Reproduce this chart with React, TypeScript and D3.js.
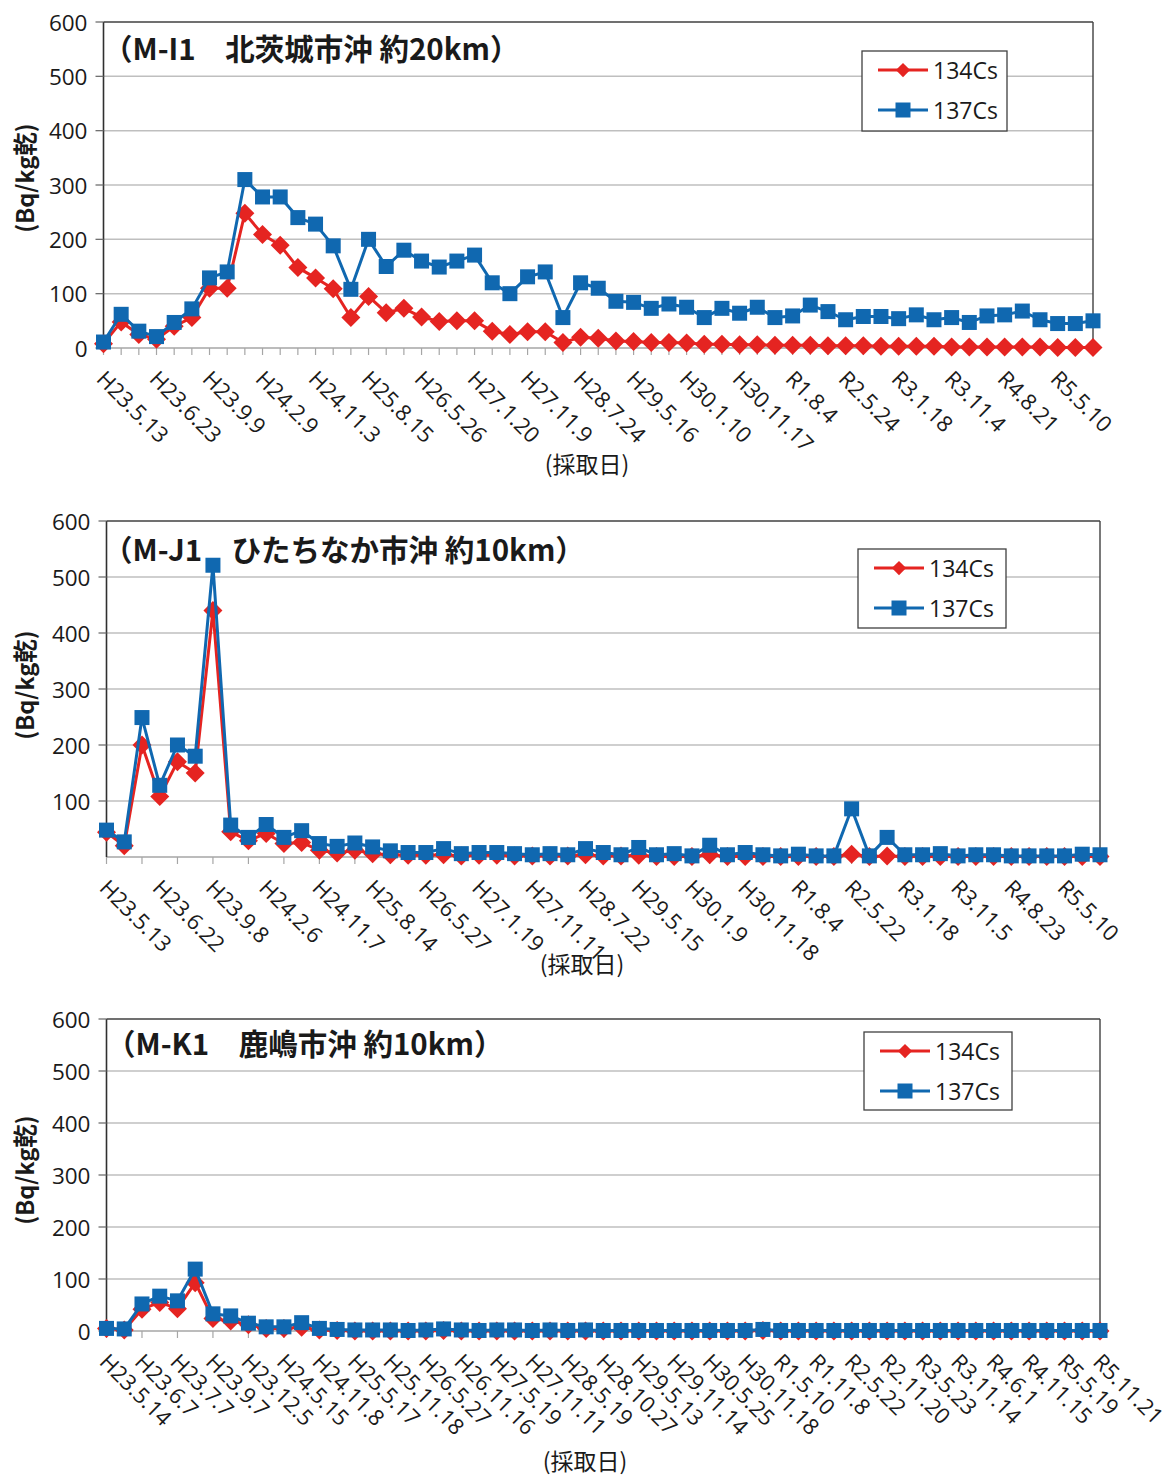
import React from 'react';
import * as d3 from 'd3';

const FONT = "'Open Sans', 'Noto Sans CJK JP', sans-serif";
const CJK = "'Noto Sans CJK JP', 'Open Sans', sans-serif";
const RED = '#E52421';
const BLUE = '#1068B0';

// ---- M-I1 北茨城市沖 ----
const labelsMI1 = [
  'H23.5.13', 'H23.6.23', 'H23.9.9', 'H24.2.9', 'H24.11.3', 'H25.8.15', 'H26.5.26',
  'H27.1.20', 'H27.11.9', 'H28.7.24', 'H29.5.16', 'H30.1.10', 'H30.11.17', 'R1.8.4',
  'R2.5.24', 'R3.1.18', 'R3.11.4', 'R4.8.21', 'R5.5.10',
];
const cs134MI1 = [
  8, 48, 25, 16, 40, 56, 110, 110, 248, 209, 189, 148, 129, 109, 56, 95, 65, 73, 57, 49,
  50, 50, 31, 25, 30, 30, 10, 20, 18, 13, 12, 10, 10, 9, 7, 7, 6, 6, 5, 5,
  5, 4, 4, 4, 3, 3, 3, 3, 2, 2, 2, 2, 2, 2, 1, 1, 1,
];
const cs137MI1 = [
  11, 62, 31, 21, 47, 72, 129, 140, 310, 278, 278, 240, 228, 188, 108, 200, 150, 180, 160, 149,
  160, 171, 120, 100, 131, 140, 56, 120, 110, 86, 84, 73, 81, 75, 56, 73, 64, 75, 56, 59,
  79, 67, 52, 58, 58, 54, 61, 52, 56, 47, 59, 61, 68, 52, 45, 45, 50,
];

// ---- M-J1 ひたちなか市沖 ----
const labelsMJ1 = [
  'H23.5.13', 'H23.6.22', 'H23.9.8', 'H24.2.6', 'H24.11.7', 'H25.8.14', 'H26.5.27',
  'H27.1.19', 'H27.11.11', 'H28.7.22', 'H29.5.15', 'H30.1.9', 'H30.11.18', 'R1.8.4',
  'R2.5.22', 'R3.1.18', 'R3.11.5', 'R4.8.23', 'R5.5.10',
];
const cs134MJ1 = [
  44, 20, 200, 108, 170, 150, 440, 45, 29, 42, 24, 26, 12, 7, 12, 6, 4, 3, 3, 4,
  2, 3, 3, 2, 2, 2, 2, 4, 2, 2, 3, 1, 1, 1, 4, 1, 1, 1, 1, 1,
  1, 1, 5, 1, 2, 1, 1, 1, 1, 1, 1, 1, 1, 1, 1, 1, 1,
];
const cs137MJ1 = [
  48, 27, 249, 128, 200, 180, 521, 57, 35, 58, 35, 47, 24, 19, 25, 18, 11, 8, 8, 15,
  6, 8, 8, 6, 4, 6, 4, 15, 8, 4, 17, 4, 6, 2, 21, 4, 8, 4, 2, 5,
  2, 2, 86, 2, 35, 4, 4, 6, 2, 4, 4, 2, 2, 2, 2, 5, 4,
];

// ---- M-K1 鹿嶋市沖 ----
const labelsMK1 = [
  'H23.5.14', 'H23.6.7', 'H23.7.7', 'H23.9.7', 'H23.12.5', 'H24.5.15', 'H24.11.8',
  'H25.5.17', 'H25.11.18', 'H26.5.27', 'H26.11.16', 'H27.5.19', 'H27.11.11', 'H28.5.19',
  'H28.10.27', 'H29.5.13', 'H29.11.14', 'H30.5.25', 'H30.11.18', 'R1.5.10', 'R1.11.8',
  'R2.5.22', 'R2.11.20', 'R3.5.23', 'R3.11.14', 'R4.6.1', 'R4.11.15', 'R5.5.19', 'R5.11.21',
];
const cs134MK1 = [
  5, 2, 42, 55, 43, 93, 24, 19, 12, 5, 5, 7, 2, 1, 0, 0, 0, 0, 0, 1,
  0, 0, 0, 0, 0, 0, 0, 0, 0, 0, 0, 0, 0, 0, 0, 0, 0, 1, 0, 0,
  0, 0, 0, 0, 0, 0, 0, 0, 0, 0, 0, 0, 0, 0, 0, 0, 0,
];
const cs137MK1 = [
  5, 4, 52, 67, 58, 119, 33, 29, 15, 8, 8, 16, 5, 3, 2, 2, 2, 1, 2, 4,
  2, 1, 2, 2, 1, 2, 1, 2, 1, 1, 1, 1, 1, 1, 1, 1, 1, 3, 1, 1,
  1, 1, 1, 1, 1, 1, 1, 1, 1, 1, 1, 1, 1, 1, 1, 1, 1,
];

const yTicksWithZero = [0, 100, 200, 300, 400, 500, 600];
const yTicksNoZero = [100, 200, 300, 400, 500, 600];
const seriesNames = ['134Cs', '137Cs'];

type Panel = {
  title: string;
  labels: string[];
  labelStep: number;
  tickStep: number;
  cs134: number[];
  cs137: number[];
  yTicks: number[];
  left: number;
  right: number;
  top: number;
  bottom: number;
  titleX: number;
  titleY: number;
  legend: { x: number; y: number; w: number; h: number };
  yTitleY: number;
  xTitleX: number;
  xTitleY: number;
};

const panels: Panel[] = [
  {
    title: '（M-I1　北茨城市沖 約20km）',
    labels: labelsMI1, labelStep: 3, tickStep: 1,
    cs134: cs134MI1, cs137: cs137MI1, yTicks: yTicksWithZero,
    left: 103.5, right: 1093, top: 22, bottom: 348,
    titleX: 103, titleY: 60,
    legend: { x: 862, y: 51, w: 145, h: 80 },
    yTitleY: 178, xTitleX: 587, xTitleY: 473,
  },
  {
    title: '（M-J1　ひたちなか市沖 約10km）',
    labels: labelsMJ1, labelStep: 3, tickStep: 2,
    cs134: cs134MJ1, cs137: cs137MJ1, yTicks: yTicksNoZero,
    left: 106.5, right: 1100, top: 521, bottom: 857,
    titleX: 103, titleY: 561,
    legend: { x: 858, y: 549, w: 148, h: 79 },
    yTitleY: 685, xTitleX: 582, xTitleY: 973,
  },
  {
    title: '（M-K1　鹿嶋市沖 約10km）',
    labels: labelsMK1, labelStep: 2, tickStep: 2,
    cs134: cs134MK1, cs137: cs137MK1, yTicks: yTicksWithZero,
    left: 106.5, right: 1100, top: 1019, bottom: 1331,
    titleX: 106, titleY: 1055,
    legend: { x: 864, y: 1032, w: 148, h: 78 },
    yTitleY: 1170, xTitleX: 585, xTitleY: 1470,
  },
];

const diamond = 'M0,-9.5L9.5,0L0,9.5L-9.5,0Z';

function Marker({ kind, x, y, small }: { kind: number; x: number; y: number; small?: boolean }) {
  if (kind === 0) {
    const s = small ? 0.75 : 1;
    return <path d={diamond} transform={`translate(${x},${y}) scale(${s})`} fill={RED} />;
  }
  const h = 7.5;
  return <rect x={x - h} y={y - h} width={h * 2} height={h * 2} fill={BLUE} />;
}

function ChartPanel({ p }: { p: Panel }) {
  const n = p.cs134.length;
  const x = d3.scaleLinear().domain([0, n - 1]).range([p.left, p.right]);
  const y = d3.scaleLinear().domain([0, 600]).range([p.bottom, p.top]);
  const line = d3.line<number>().x((_, i) => x(i)).y((v) => y(v));
  const series = [p.cs134, p.cs137];
  const colors = [RED, BLUE];
  const tickIdx = d3.range(0, n, p.tickStep);

  return (
    <g>
      {/* horizontal grid */}
      {p.yTicks.filter((t) => t > 0 && t < 600).map((t) => (
        <line key={`g${t}`} x1={p.left} x2={p.right} y1={y(t)} y2={y(t)} stroke="#BFBFBF" strokeWidth={1.5} />
      ))}
      {/* frame */}
      <line x1={p.left} x2={p.right} y1={p.top} y2={p.top} stroke="#404040" strokeWidth={1.4} />
      <line x1={p.right} x2={p.right} y1={p.top} y2={p.bottom} stroke="#404040" strokeWidth={1.4} />
      <line x1={p.left} x2={p.right} y1={p.bottom} y2={p.bottom} stroke="#A6A6A6" strokeWidth={1.5} />
      {tickIdx.map((i) => (
        <line key={`xt${i}`} x1={x(i)} x2={x(i)} y1={p.bottom} y2={p.bottom + 7} stroke="#A6A6A6" strokeWidth={1.2} />
      ))}
      <line x1={p.left} x2={p.left} y1={p.top} y2={p.bottom} stroke="#303030" strokeWidth={1.6} />
      {p.yTicks.map((t) => (
        <g key={`yt${t}`}>
          <line x1={p.left - 8} x2={p.left} y1={y(t)} y2={y(t)} stroke="#707070" strokeWidth={1.3} />
          <text x={p.left - 16} y={y(t)} textAnchor="end" dominantBaseline="central" fontSize={22.5} fontFamily={FONT} fill="#1a1a1a">
            {t}
          </text>
        </g>
      ))}
      {/* series */}
      {series.map((vals, s) => (
        <g key={`s${s}`}>
          <path d={line(vals) || ''} fill="none" stroke={colors[s]} strokeWidth={3} strokeLinejoin="round" />
          {vals.map((v, i) => (
            <Marker key={i} kind={s} x={x(i)} y={y(v)} />
          ))}
        </g>
      ))}
      {/* category labels */}
      {p.labels.map((lab, k) => {
        const i = k * p.labelStep;
        return (
          <text
            key={`xl${k}`}
            transform={`translate(${x(i) - 2},${p.bottom + 26}) rotate(45)`}
            dominantBaseline="central"
            fontSize={22}
            fontFamily={FONT}
            fill="#1a1a1a"
          >
            {lab}
          </text>
        );
      })}
      {/* title */}
      <text x={p.titleX} y={p.titleY} fontSize={29.5} fontWeight="bold" fontFamily={CJK} fill="#1a1a1a">
        {p.title}
      </text>
      {/* axis titles */}
      <text
        transform={`translate(24,${p.yTitleY}) rotate(-90)`}
        textAnchor="middle"
        dominantBaseline="central"
        fontSize={23.5}
        fontWeight="bold"
        fontFamily={CJK}
        fill="#1a1a1a"
      >
        (Bq/kg乾)
      </text>
      <text x={p.xTitleX} y={p.xTitleY} textAnchor="middle" fontSize={23} fontFamily={CJK} fill="#1a1a1a">
        (採取日)
      </text>
      {/* legend */}
      <rect x={p.legend.x} y={p.legend.y} width={p.legend.w} height={p.legend.h} fill="#fff" stroke="#404040" strokeWidth={1.3} />
      {seriesNames.map((name, s) => {
        const ly = p.legend.y + 19 + s * 40;
        const lx = p.legend.x + 16;
        return (
          <g key={`lg${s}`}>
            <line x1={lx} x2={lx + 50} y1={ly} y2={ly} stroke={colors[s]} strokeWidth={3} />
            <Marker kind={s} x={lx + 25} y={ly} small />
            <text x={lx + 55} y={ly} dominantBaseline="central" fontSize={23} fontFamily={FONT} fill="#1a1a1a">
              {name}
            </text>
          </g>
        );
      })}
    </g>
  );
}

export default function App() {
  return (
    <svg
      width={1171}
      height={1479}
      viewBox="0 0 1171 1479"
      style={{ position: 'absolute', left: 0, top: 0, background: '#fff' }}
    >
      <rect width={1171} height={1479} fill="#fff" />
      {panels.map((p, i) => (
        <ChartPanel key={i} p={p} />
      ))}
    </svg>
  );
}
